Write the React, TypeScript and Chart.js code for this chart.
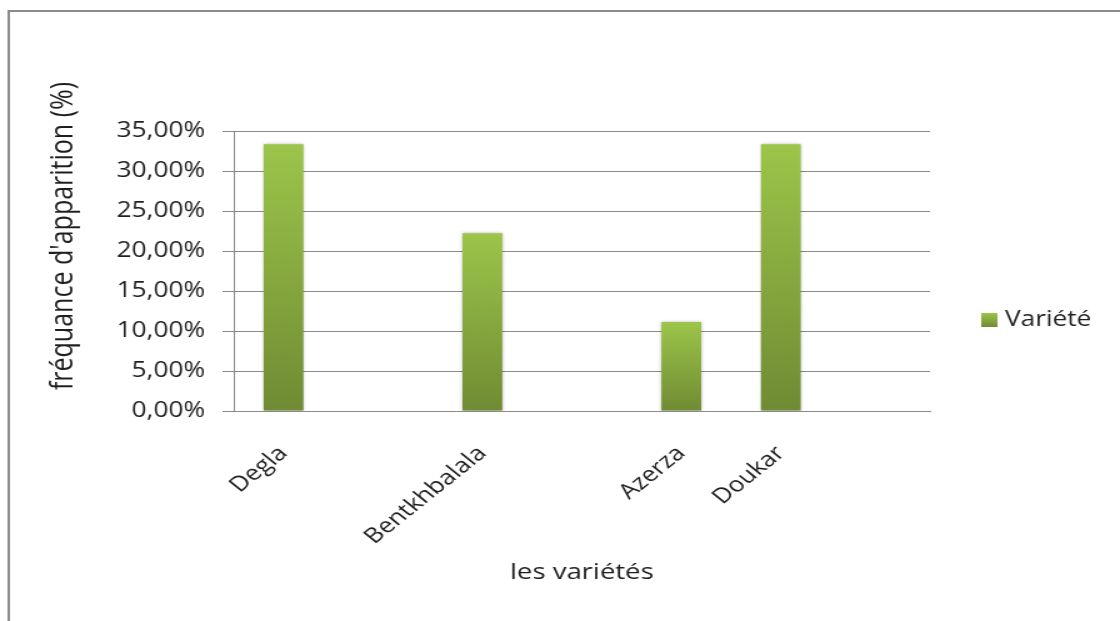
import React, { useEffect, useRef } from 'react';
import { Chart, registerables } from 'chart.js';

Chart.register(...registerables);

// ---- data ----
const categories = ['Degla', '', 'Bentkhbalala', '', 'Azerza', 'Doukar', ''];
const frequencies: (number | null)[] = [33.33, null, 22.22, null, 11.11, 33.33, null];
const seriesName = 'Variété';
const yAxisTitle = "fréquance d'apparition (%)";
const xAxisTitle = 'les variétés';
const yMin = 0;
const yMax = 35;
const yStep = 5;

// ---- look ----
const W = 896;
const H = 621;
const SX = 1.25;
const FONT = "'Open Sans', 'Noto Sans', sans-serif";
const TEXT = '#1e1e1e';
const GRID = '#8a8a8a';
const GREEN_TOP = '#9cc54a';
const GREEN_BOTTOM = '#708b33';

const fmtPct = (v: number) => v.toFixed(2).replace('.', ',') + '%';

const decorPlugin = {
  id: 'decor',
  beforeDatasetsDraw(chart: any) {
    const ctx = chart.ctx;
    ctx.save();
    ctx.shadowColor = 'rgba(0,0,0,0.28)';
    ctx.shadowBlur = 3;
    ctx.shadowOffsetX = 0;
    ctx.shadowOffsetY = 0;
  },
  afterDatasetsDraw(chart: any) {
    chart.ctx.restore();
  },
  afterDraw(chart: any) {
    const ctx = chart.ctx;
    ctx.save();
    // outer frame
    ctx.strokeStyle = '#8c8c8c';
    ctx.lineWidth = 2;
    ctx.strokeRect(7, 11, W + 20, H + 20);

    // y axis title
    ctx.fillStyle = TEXT;
    ctx.font = `25px ${FONT}`;
    ctx.textAlign = 'center';
    ctx.textBaseline = 'middle';
    ctx.save();
    ctx.translate(51, 236);
    ctx.rotate(-Math.PI / 2);
    ctx.fillText(yAxisTitle, 0, 0);
    ctx.restore();

    // x axis title
    const area = chart.chartArea;
    ctx.font = `22px ${FONT}`;
    ctx.fillText(xAxisTitle, (area.left + area.right) / 2, 573);

    // legend
    const lx = 785;
    const ly = 313;
    const g = ctx.createLinearGradient(0, ly, 0, ly + 14);
    g.addColorStop(0, GREEN_TOP);
    g.addColorStop(1, GREEN_BOTTOM);
    ctx.fillStyle = g;
    ctx.fillRect(lx, ly, 13, 14);
    ctx.fillStyle = TEXT;
    ctx.font = `21px ${FONT}`;
    ctx.textAlign = 'left';
    ctx.fillText(chart.data.datasets[0].label, 804, 320);
    ctx.restore();
  },
};

export default function App() {
  const ref = useRef<HTMLCanvasElement | null>(null);

  useEffect(() => {
    if (!ref.current) return;
    const chart = new Chart(ref.current, {
      type: 'bar',
      data: {
        labels: categories,
        datasets: [
          {
            label: seriesName,
            data: frequencies,
            categoryPercentage: 1,
            barPercentage: 0.4,
            borderWidth: 0,
            backgroundColor: (c: any) => {
              const chart = c.chart;
              const scales = chart.scales;
              if (c.type !== 'data' || c.raw == null || !scales || !scales.y) return GREEN_TOP;
              const yTop = scales.y.getPixelForValue(c.raw as number);
              const yBot = scales.y.getPixelForValue(0);
              if (!isFinite(yTop) || !isFinite(yBot) || yTop === yBot) return GREEN_TOP;
              const g = chart.ctx.createLinearGradient(0, yTop, 0, yBot);
              g.addColorStop(0, GREEN_TOP);
              g.addColorStop(1, GREEN_BOTTOM);
              return g;
            },
          },
        ],
      },
      options: {
        responsive: false,
        animation: false,
        devicePixelRatio: 1,
        layout: { padding: { top: 131, right: W - 744, bottom: 0, left: 0 } },
        plugins: {
          legend: { display: false },
          tooltip: { enabled: false },
          title: { display: false },
        },
        scales: {
          x: {
            grid: { display: false, drawTicks: false },
            border: { display: true, color: GRID, width: 1 },
            ticks: {
              autoSkip: false,
              minRotation: 45,
              maxRotation: 45,
              padding: 30,
              color: TEXT,
              font: { family: FONT, size: 21 },
            },
            afterFit: (s: any) => {
              s.height = H - 411;
            },
          },
          y: {
            min: yMin,
            max: yMax,
            ticks: {
              stepSize: yStep,
              padding: 14,
              color: TEXT,
              font: { family: FONT, size: 21 },
              callback: (v: any) => fmtPct(Number(v)),
            },
            grid: { color: GRID, lineWidth: 1, tickLength: 9, drawTicks: true },
            border: { display: true, color: GRID, width: 1 },
            afterFit: (s: any) => {
              s.width = 187;
            },
          },
        },
      },
      plugins: [decorPlugin],
    } as any);
    return () => chart.destroy();
  }, []);

  return (
    <div
      style={{
        position: 'fixed',
        left: 0,
        top: 0,
        width: 1120,
        height: 621,
        overflow: 'hidden',
        background: '#ffffff',
      }}
    >
      <div style={{ width: W, height: H, transform: `scaleX(${SX})`, transformOrigin: '0 0' }}>
        <canvas ref={ref} width={W} height={H} style={{ display: 'block', width: W, height: H }} />
      </div>
    </div>
  );
}
